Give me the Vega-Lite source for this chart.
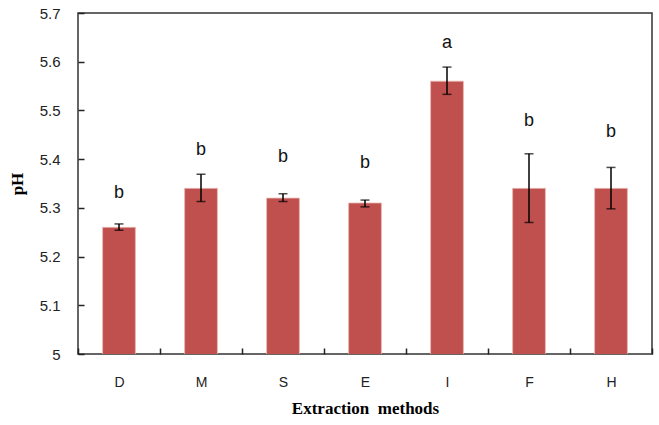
{
  "$schema": "https://vega.github.io/schema/vega-lite/v6.json",
  "width": 574,
  "height": 341,
  "autosize": {"type": "none"},
  "padding": {"left": 78, "top": 13, "right": 7, "bottom": 71},
  "background": "white",
  "config": {
    "view": {"stroke": "#333333", "strokeWidth": 1.5},
    "axis": {"grid": false, "ticks": true, "domain": false, "tickColor": "#222222", "tickWidth": 1.5, "tickOpacity": 1}
  },
  "data": {
    "values": [
      {"method": "D", "ph": 5.26, "lo": 5.254, "hi": 5.267, "letter": "b", "ly": 5.331},
      {"method": "M", "ph": 5.34, "lo": 5.313, "hi": 5.369, "letter": "b", "ly": 5.419},
      {"method": "S", "ph": 5.32, "lo": 5.313, "hi": 5.329, "letter": "b", "ly": 5.405},
      {"method": "E", "ph": 5.31, "lo": 5.302, "hi": 5.316, "letter": "b", "ly": 5.392},
      {"method": "I", "ph": 5.56, "lo": 5.533, "hi": 5.589, "letter": "a", "ly": 5.639},
      {"method": "F", "ph": 5.34, "lo": 5.270, "hi": 5.411, "letter": "b", "ly": 5.478},
      {"method": "H", "ph": 5.34, "lo": 5.298, "hi": 5.383, "letter": "b", "ly": 5.456}
    ]
  },
  "encoding": {
    "x": {
      "field": "method", "type": "nominal", "sort": null,
      "scale": {"paddingInner": 0, "paddingOuter": 0},
      "axis": {
        "title": "Extraction\u00a0\u00a0methods", "labelAngle": 0, "tickBand": "extent",
        "offset": -6, "tickSize": 6, "labelPadding": 21, "labelFont": "Liberation Sans", "labelFontSize": 14, "labelColor": "#222222",
        "titleFont": "Liberation Serif", "titleFontSize": 17, "titleFontWeight": "bold", "titleColor": "#000000", "titlePadding": 11,
        "zindex": 1
      }
    }
  },
  "layer": [
    {
      "mark": {"type": "bar", "color": "#C0504D", "stroke": "#E8B6B4", "strokeWidth": 0.8, "clip": true, "width": {"band": 0.4}},
      "encoding": {
        "y": {
          "field": "ph", "type": "quantitative",
          "scale": {"domain": [5, 5.7], "zero": false, "nice": false},
          "axis": {
            "title": "pH", "values": [5, 5.1, 5.2, 5.3, 5.4, 5.5, 5.6, 5.7], "format": "~g",
            "offset": -6, "tickSize": 6, "labelPadding": 18, "labelFont": "Liberation Sans", "labelFontSize": 15, "labelColor": "#222222",
            "titleFont": "Liberation Serif", "titleFontSize": 17, "titleFontWeight": "bold", "titleColor": "#000000", "titlePadding": 13,
            "zindex": 1
          }
        }
      }
    },
    {
      "mark": {"type": "rule", "color": "#000000", "strokeWidth": 1.5},
      "encoding": {"y": {"field": "lo", "type": "quantitative"}, "y2": {"field": "hi"}}
    },
    {
      "mark": {"type": "tick", "color": "#000000", "size": 9, "thickness": 1.5},
      "encoding": {"y": {"field": "lo", "type": "quantitative"}}
    },
    {
      "mark": {"type": "tick", "color": "#000000", "size": 9, "thickness": 1.5},
      "encoding": {"y": {"field": "hi", "type": "quantitative"}}
    },
    {
      "mark": {"type": "text", "font": "Liberation Sans", "fontSize": 18, "color": "#111111", "baseline": "middle"},
      "encoding": {"y": {"field": "ly", "type": "quantitative"}, "text": {"field": "letter"}}
    }
  ]
}
